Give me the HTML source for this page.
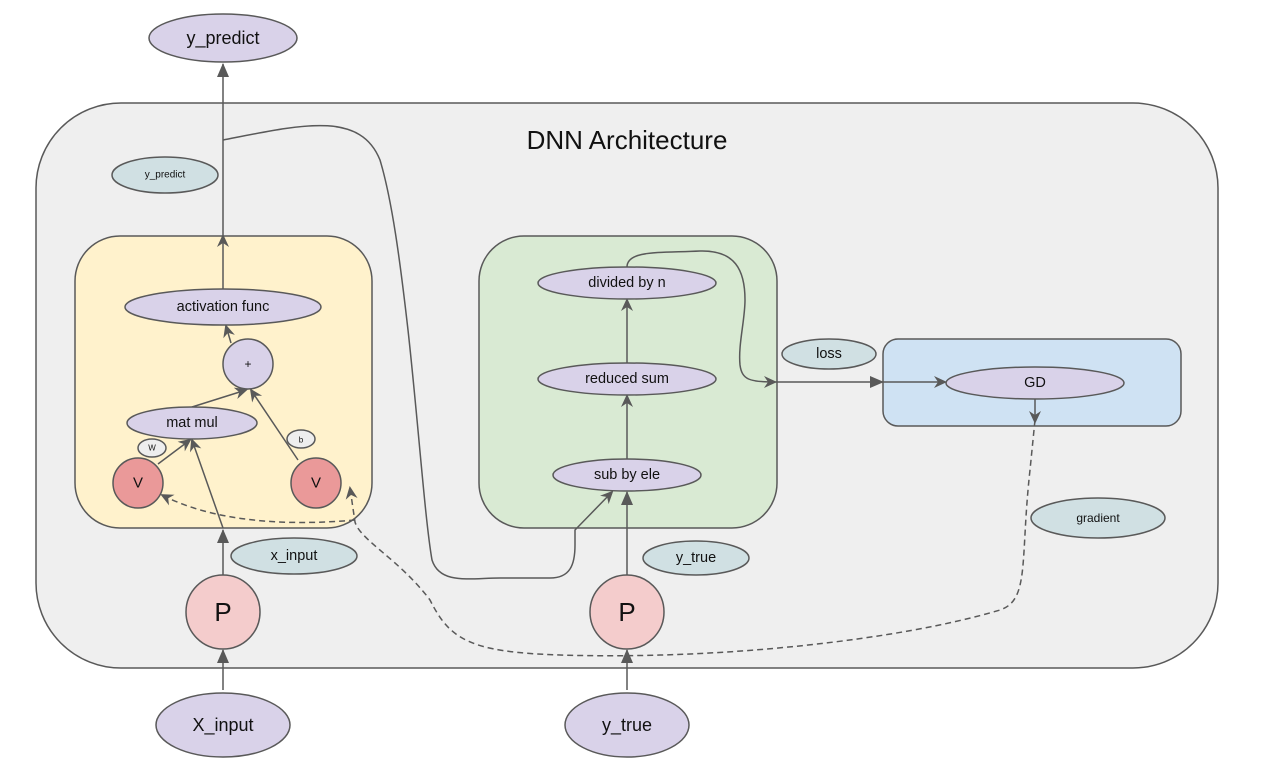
<!DOCTYPE html>
<html><head><meta charset="utf-8"><style>
body{margin:0;background:#fff;}
svg{display:block;font-family:"Liberation Sans",Arial,sans-serif;}
text{text-anchor:middle;dominant-baseline:central;fill:#111;}
</style></head><body>
<svg width="1278" height="763" viewBox="0 0 1278 763">
<defs>
<marker id="a" markerWidth="14" markerHeight="14" refX="11" refY="7" orient="auto" markerUnits="userSpaceOnUse"><path d="M0,1 L13,7 L0,13 L4,7 Z" fill="#595959"/></marker>
<marker id="t" markerWidth="14" markerHeight="14" refX="13" refY="7" orient="auto" markerUnits="userSpaceOnUse"><path d="M0,1 L14,7 L0,13 Z" fill="#595959"/></marker>
</defs>
<rect x="36" y="103" width="1182" height="565" rx="85" fill="#efefef" stroke="#595959" stroke-width="1.5"/>
<text x="627" y="140" font-size="26">DNN Architecture</text>
<rect x="75" y="236" width="297" height="292" rx="45" fill="#fff2cc" stroke="#595959" stroke-width="1.5"/>
<rect x="479" y="236" width="298" height="292" rx="45" fill="#d9ead3" stroke="#595959" stroke-width="1.5"/>
<rect x="883" y="339" width="298" height="87" rx="15" fill="#cfe2f3" stroke="#595959" stroke-width="1.5"/>

<g stroke="#595959" stroke-width="1.5" fill="none">
<line x1="223" y1="575" x2="223" y2="530" marker-end="url(#t)"/>
<line x1="223" y1="690" x2="223" y2="650" marker-end="url(#t)"/>
<line x1="627" y1="690" x2="627" y2="650" marker-end="url(#t)"/>
<line x1="627" y1="575" x2="627" y2="492" marker-end="url(#t)"/>
<line x1="223" y1="528" x2="192" y2="440" marker-end="url(#a)"/>
<line x1="158" y1="464" x2="190" y2="440" marker-end="url(#a)"/>
<line x1="298" y1="460" x2="251" y2="390" marker-end="url(#a)"/>
<line x1="192" y1="407" x2="246" y2="390" marker-end="url(#a)"/>
<line x1="231" y1="343" x2="226" y2="326" marker-end="url(#a)"/>
<line x1="223" y1="289" x2="223" y2="236" marker-end="url(#a)"/>
<line x1="223" y1="236" x2="223" y2="64" marker-end="url(#t)"/>
<line x1="627" y1="459" x2="627" y2="396" marker-end="url(#a)"/>
<line x1="627" y1="363" x2="627" y2="300" marker-end="url(#a)"/>
<path d="M627,267 C627,250 660,253 700,251 C735,250 745,270 745,300 C745,320 738,345 740,365 C742,380 750,382 775,382" marker-end="url(#a)"/>
<line x1="775" y1="382" x2="883" y2="382" marker-end="url(#t)"/>
<line x1="883" y1="382" x2="945" y2="382" marker-end="url(#a)"/>
<line x1="1035" y1="399" x2="1035" y2="422" marker-end="url(#a)"/>
<path d="M223,140 C300,125 360,110 380,160 C392,200 400,260 408,330 C418,420 425,520 432,560 C440,585 470,578 500,578 L550,578 C570,578 575,565 575,545 L575,530 L612,492" marker-end="url(#a)"/>
<path d="M1035,420 L1030,470 C1020,560 1030,600 1000,610 C900,640 720,660 560,655 C470,652 450,640 430,600 C400,560 360,540 355,522 L350,488" stroke-dasharray="6,4" marker-end="url(#a)"/>
<path d="M355,520 C300,525 220,525 162,495" stroke-dasharray="6,4" marker-end="url(#a)"/>
</g>

<g stroke="#595959" stroke-width="1.5">
<ellipse cx="223" cy="38" rx="74" ry="24" fill="#d9d2e9"/>
<ellipse cx="165" cy="175" rx="53" ry="18" fill="#d0e0e3"/>
<ellipse cx="223" cy="307" rx="98" ry="18" fill="#d9d2e9"/>
<circle cx="248" cy="364" r="25" fill="#d9d2e9"/>
<ellipse cx="192" cy="423" rx="65" ry="16" fill="#d9d2e9"/>
<ellipse cx="152" cy="448" rx="14" ry="9" fill="#eeeeee"/>
<ellipse cx="301" cy="439" rx="14" ry="9" fill="#eeeeee"/>
<circle cx="138" cy="483" r="25" fill="#ea9999"/>
<circle cx="316" cy="483" r="25" fill="#ea9999"/>
<ellipse cx="294" cy="556" rx="63" ry="18" fill="#d0e0e3"/>
<circle cx="223" cy="612" r="37" fill="#f4cccc"/>
<ellipse cx="223" cy="725" rx="67" ry="32" fill="#d9d2e9"/>
<ellipse cx="627" cy="283" rx="89" ry="16" fill="#d9d2e9"/>
<ellipse cx="627" cy="379" rx="89" ry="16" fill="#d9d2e9"/>
<ellipse cx="627" cy="475" rx="74" ry="16" fill="#d9d2e9"/>
<ellipse cx="696" cy="558" rx="53" ry="17" fill="#d0e0e3"/>
<circle cx="627" cy="612" r="37" fill="#f4cccc"/>
<ellipse cx="627" cy="725" rx="62" ry="32" fill="#d9d2e9"/>
<ellipse cx="829" cy="354" rx="47" ry="15" fill="#d0e0e3"/>
<ellipse cx="1035" cy="383" rx="89" ry="16" fill="#d9d2e9"/>
<ellipse cx="1098" cy="518" rx="67" ry="20" fill="#d0e0e3"/>
</g>

<text x="223" y="38" font-size="18">y_predict</text>
<text x="165" y="175" font-size="10">y_predict</text>
<text x="223" y="307" font-size="14.5">activation func</text>
<text x="248" y="364" font-size="12">+</text>
<text x="192" y="423" font-size="14.5">mat mul</text>
<text x="152" y="448" font-size="8">W</text>
<text x="301" y="440" font-size="8">b</text>
<text x="138" y="483" font-size="15">V</text>
<text x="316" y="483" font-size="15">V</text>
<text x="294" y="556" font-size="14.5">x_input</text>
<text x="223" y="612" font-size="26">P</text>
<text x="223" y="725" font-size="18">X_input</text>
<text x="627" y="283" font-size="14.5">divided by n</text>
<text x="627" y="379" font-size="14.5">reduced sum</text>
<text x="627" y="475" font-size="14.5">sub by ele</text>
<text x="696" y="558" font-size="14.5">y_true</text>
<text x="627" y="612" font-size="26">P</text>
<text x="627" y="725" font-size="18">y_true</text>
<text x="829" y="354" font-size="14.5">loss</text>
<text x="1035" y="383" font-size="14.5">GD</text>
<text x="1098" y="518" font-size="12">gradient</text>
</svg>
</body></html>
